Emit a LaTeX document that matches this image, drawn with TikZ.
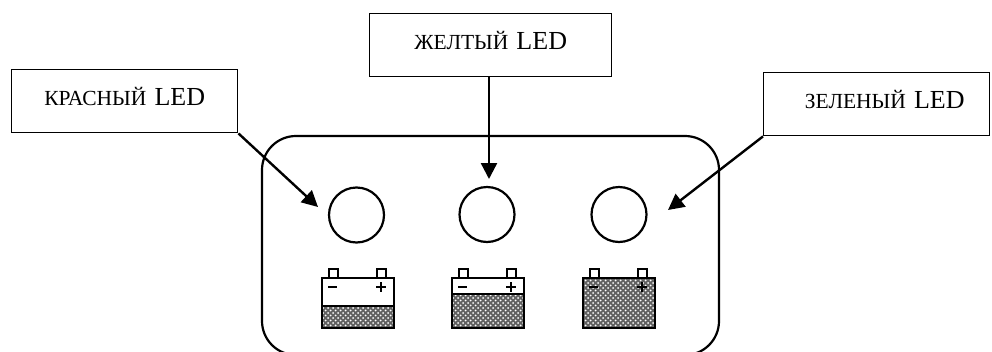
\documentclass[tikz,border=0pt]{standalone}
\usepackage{fontspec}
\setmainfont{Liberation Serif}
\usetikzlibrary{arrows.meta,patterns}
\pgfdeclarepatternformonly{battdots}{\pgfqpoint{-1pt}{-1pt}}{\pgfqpoint{5pt}{5pt}}{\pgfqpoint{5pt}{5pt}}{%
  \pgfpathcircle{\pgfqpoint{0.6pt}{0.6pt}}{1pt}%
  \pgfpathcircle{\pgfqpoint{3.1pt}{3.1pt}}{1pt}%
  \pgfusepath{fill}}
\newcommand{\lbl}[1]{\raisebox{-4.5pt}[0pt][0pt]{{\fontsize{21.5}{22}\selectfont #1}\hspace{8pt}{\fontsize{26}{28}\selectfont LED}}}
\tikzset{
  x=1pt,y=-1pt,
  labelbox/.style={draw,line width=1.4pt,inner sep=0pt,minimum height=63pt,anchor=north west},
  led/.style={draw,circle,line width=2.2pt,minimum size=55pt,inner sep=0pt},
  pointer/.style={line width=2.4pt,-{Triangle[length=16pt,width=16pt]}},
  housing/.style={draw,line width=2.2pt,rounded corners=34pt},
  batt/.style={draw,line width=2.6pt,inner sep=0pt},
  charged/.style={batt,fill=black!62,postaction={pattern=battdots,pattern color=white}},
  sign/.style={line width=2.6pt}
}
\newcommand{\battery}[2]{%
  \draw[batt] (#1+7,269) rectangle (#1+16,278);
  \draw[batt] (#1+55,269) rectangle (#1+64,278);
  \draw[batt] (#1,278) rectangle (#1+72,#2);
  \draw[charged] (#1,#2) rectangle (#1+72,328);
  \draw[batt] (#1,#2) rectangle (#1+72,328);
  \draw[sign] (#1+6,287) -- (#1+15,287);
  \draw[sign] (#1+54,287) -- (#1+64,287) (#1+59,282) -- (#1+59,292);
}
\begin{document}
\begin{tikzpicture}
\useasboundingbox (0,0) rectangle (992,351);
\begin{scope}
\clip (0,0) rectangle (992,351);
\draw[housing] (262,136) rectangle (719,355);
\end{scope}
\node[labelbox,minimum width=226pt] (red) at (11,69) {\lbl{КРАСНЫЙ}};
\node[labelbox,minimum width=242pt] (yellow) at (369,13) {\lbl{ЖЕЛТЫЙ}};
\node[labelbox,minimum width=226pt] (green) at (763,72) {\hspace{16pt}\lbl{ЗЕЛЕНЫЙ}};
\node[led] (l1) at (356.5,215) {};
\node[led] (l2) at (487,214.5) {};
\node[led] (l3) at (619,214.5) {};
\coordinate (t1) at (318,207);
\coordinate (t2) at (489,179);
\coordinate (t3) at (668,210);
\draw[pointer] (red.south east) -- (t1);
\draw[pointer] (489,76) -- (t2);
\draw[pointer] (green.south west) -- (t3);
\battery{322}{306}
\battery{452}{294}
\battery{583}{278}
\end{tikzpicture}
\end{document}
